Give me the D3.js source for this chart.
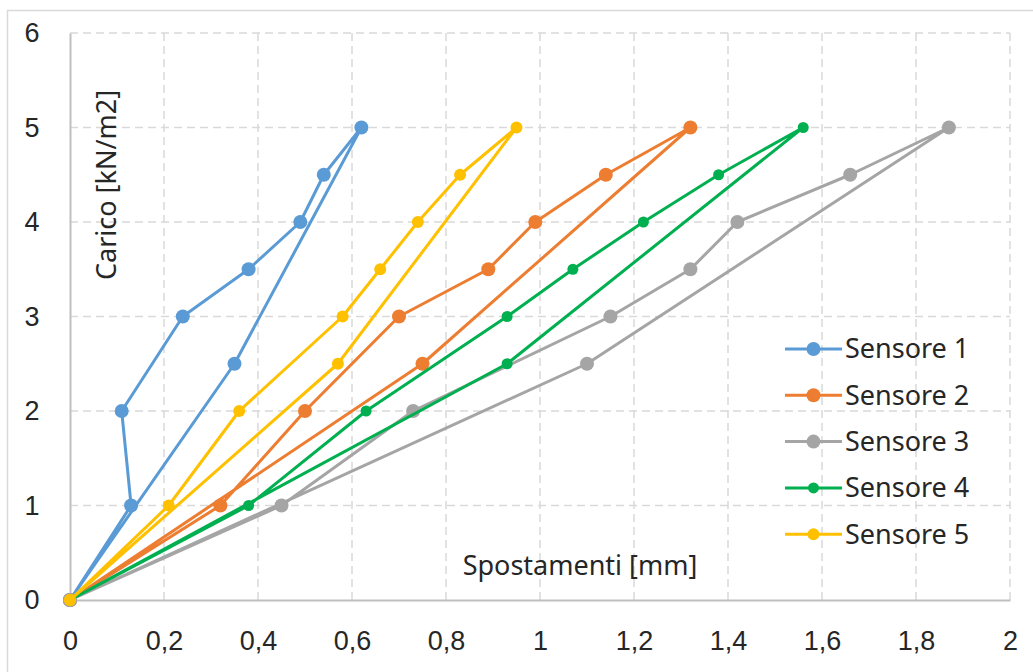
<!DOCTYPE html>
<html>
<head>
<meta charset="utf-8">
<script src="https://cdn.jsdelivr.net/npm/d3@7"></script>
<style>
  body { margin: 0; background: #fff; }
  svg { display: block; font-family: "Noto Sans", "Open Sans", sans-serif; }
</style>
</head>
<body>
<div id="chart"></div>
<script>
// load steps (loading up to 5, then unloading)
const carico = [0, 1, 2, 3, 3.5, 4, 4.5, 5, 2.5, 0];

const sensore1 = [0, 0.13, 0.11, 0.24, 0.38, 0.49, 0.54, 0.62, 0.35, 0];
const sensore2 = [0, 0.32, 0.50, 0.70, 0.89, 0.99, 1.14, 1.32, 0.75, 0];
const sensore3 = [0, 0.45, 0.73, 1.15, 1.32, 1.42, 1.66, 1.87, 1.10, 0];
const sensore4 = [0, 0.38, 0.63, 0.93, 1.07, 1.22, 1.38, 1.56, 0.93, 0];
const sensore5 = [0, 0.21, 0.36, 0.58, 0.66, 0.74, 0.83, 0.95, 0.57, 0];

const seriesNames = ['Sensore 1', 'Sensore 2', 'Sensore 3', 'Sensore 4', 'Sensore 5'];
const seriesValues = [sensore1, sensore2, sensore3, sensore4, sensore5];
const colors = ['#5B9BD5', '#ED7D31', '#A5A5A5', '#00B050', '#FFC000'];
const markerR = [7, 7, 7, 5.5, 6];

const xTicks = [0, 0.2, 0.4, 0.6, 0.8, 1, 1.2, 1.4, 1.6, 1.8, 2];
const yTicks = [0, 1, 2, 3, 4, 5, 6];

const width = 1033;
const height = 672;
const margin = { top: 33, right: 23, bottom: 72, left: 70 };
const fontSize = 27;
const textColor = '#262626';

const x = d3.scaleLinear().domain([0, 2]).range([margin.left, width - margin.right]);
const y = d3.scaleLinear().domain([0, 6]).range([height - margin.bottom, margin.top]);

const svg = d3.select('#chart')
  .append('svg')
  .attr('width', width)
  .attr('height', height);

// chart border
svg.append('rect')
  .attr('x', 7.5).attr('y', 10.5)
  .attr('width', width + 10).attr('height', height + 10)
  .attr('fill', 'none')
  .attr('stroke', '#d9d9d9')
  .attr('stroke-width', 1.5);

// gridlines
const grid = svg.append('g').attr('stroke', '#d9d9d9').attr('stroke-width', 1.5).attr('stroke-dasharray', '8,5');
grid.selectAll('.gx')
  .data(xTicks.filter(d => d > 0))
  .join('line')
  .attr('x1', d => x(d)).attr('x2', d => x(d))
  .attr('y1', y(0)).attr('y2', y(6));
grid.selectAll('.gy')
  .data(yTicks.filter(d => d > 0))
  .join('line')
  .attr('x1', x(0)).attr('x2', x(2))
  .attr('y1', d => y(d)).attr('y2', d => y(d));

// axes
const xAxis = svg.append('g')
  .attr('transform', `translate(0,${y(0)})`)
  .call(d3.axisBottom(x).tickValues(xTicks).tickSize(0).tickPadding(31)
    .tickFormat(d => String(+d.toFixed(1)).replace('.', ',')));
const yAxis = svg.append('g')
  .attr('transform', `translate(${x(0)},0)`)
  .call(d3.axisLeft(y).tickValues(yTicks).tickSize(0).tickFormat(d3.format('d')));

[xAxis, yAxis].forEach(a => {
  a.select('.domain').attr('stroke', '#bfbfbf').attr('stroke-width', 2);
  a.selectAll('text').attr('font-size', fontSize).attr('fill', textColor);
});
yAxis.selectAll('text').attr('text-anchor', 'middle').attr('x', 32 - x(0));

// axis titles
svg.append('text')
  .attr('x', 580).attr('y', 575)
  .attr('text-anchor', 'middle')
  .attr('font-size', fontSize).attr('fill', textColor)
  .text('Spostamenti [mm]');
svg.append('text')
  .attr('transform', `translate(116,185) rotate(-90)`)
  .attr('text-anchor', 'middle')
  .attr('font-size', fontSize).attr('fill', textColor)
  .text('Carico [kN/m2]');

// series
const line = d3.line().x(d => x(d[0])).y(d => y(d[1]));

seriesValues.forEach((vals, i) => {
  const pts = vals.map((v, j) => [v, carico[j]]);
  const g = svg.append('g');
  g.append('path')
    .datum(pts)
    .attr('d', line)
    .attr('fill', 'none')
    .attr('stroke', colors[i])
    .attr('stroke-width', 3)
    .attr('stroke-linejoin', 'round');
  g.selectAll('circle')
    .data(pts)
    .join('circle')
    .attr('cx', d => x(d[0]))
    .attr('cy', d => y(d[1]))
    .attr('r', markerR[i])
    .attr('fill', colors[i]);
});

// legend
const legend = svg.append('g').attr('transform', 'translate(785,349)');
const item = legend.selectAll('g')
  .data(seriesNames)
  .join('g')
  .attr('transform', (d, i) => `translate(0,${i * 46.3})`);
item.append('line')
  .attr('x1', 0).attr('x2', 57)
  .attr('stroke', (d, i) => colors[i])
  .attr('stroke-width', 3);
item.append('circle')
  .attr('cx', 28.5)
  .attr('r', (d, i) => markerR[i])
  .attr('fill', (d, i) => colors[i]);
item.append('text')
  .attr('x', 60).attr('dy', '0.35em')
  .attr('font-size', fontSize).attr('fill', textColor)
  .text(d => d);
</script>
</body>
</html>
